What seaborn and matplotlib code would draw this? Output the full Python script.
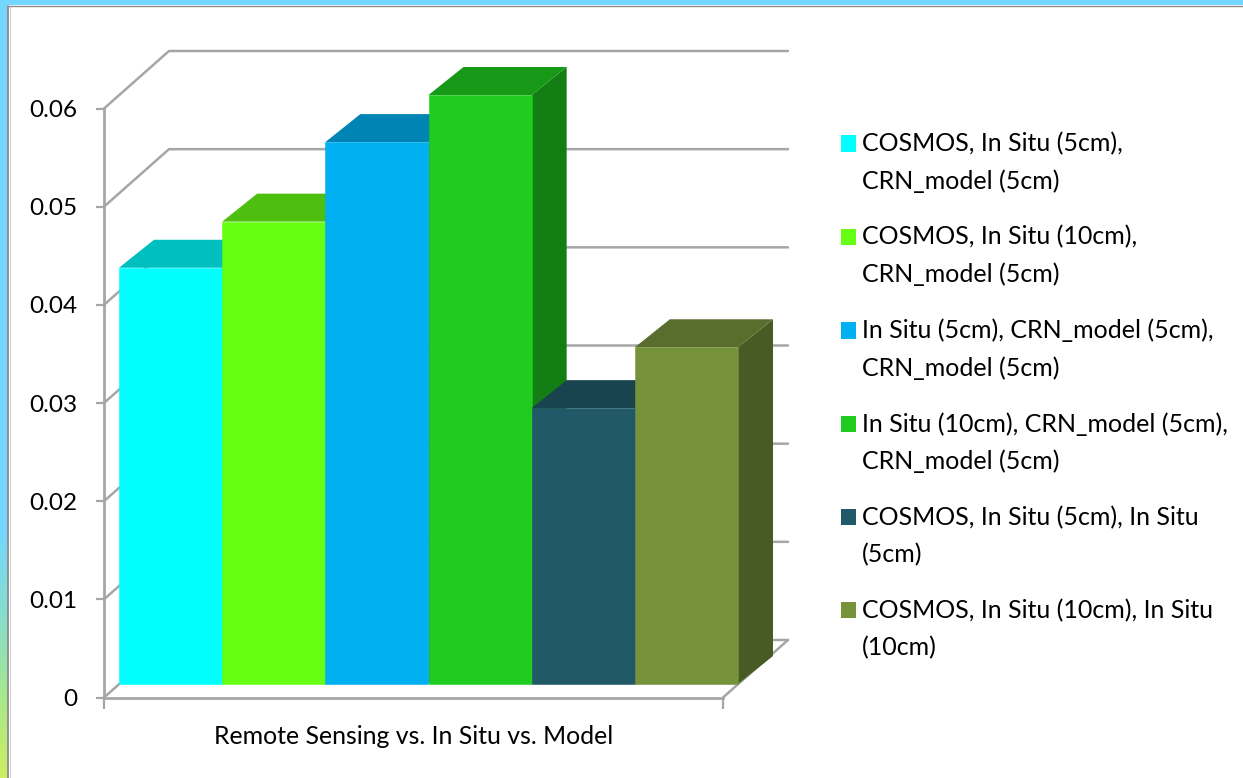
import numpy as np
import pandas as pd
import matplotlib
matplotlib.use("Agg")
import matplotlib.pyplot as plt
from matplotlib.colors import LinearSegmentedColormap, to_rgb
from matplotlib.patches import Polygon
import seaborn as sns

# Chart content
group = "Remote Sensing vs. In Situ vs. Model"
series = [
    "COSMOS, In Situ (5cm),\nCRN_model (5cm)",
    "COSMOS, In Situ (10cm),\nCRN_model (5cm)",
    "In Situ (5cm), CRN_model (5cm),\nCRN_model (5cm)",
    "In Situ (10cm), CRN_model (5cm),\nCRN_model (5cm)",
    "COSMOS, In Situ (5cm), In Situ\n(5cm)",
    "COSMOS, In Situ (10cm), In Situ\n(10cm)",
]
values = [0.0424, 0.0471, 0.0552, 0.0600, 0.0281, 0.0343]
colors = ["#00FFFF", "#66FF13", "#00B0F0", "#1FCC1F", "#215968", "#76933C"]
y_ticks = [0, 0.01, 0.02, 0.03, 0.04, 0.05, 0.06]
y_tick_labels = ["0", "0.01", "0.02", "0.03", "0.04", "0.05", "0.06"]

W, H = 1243, 778
GREY = "#A6A6A6"
FONT = "Lato"

sns.set_theme(style="white")
plt.rcParams["font.family"] = [FONT, "DejaVu Sans"]
plt.rcParams["text.color"] = "black"


def px_box(left, top, right, bottom):
    """Figure-fraction rectangle from pixel edges measured from the top-left."""
    return [left / W, 1 - bottom / H, (right - left) / W, (bottom - top) / H]


fig = plt.figure(figsize=(W / 100, H / 100), dpi=100, facecolor="white")

# Slide frame: gradient strip on the left, flat band along the top
strip = fig.add_axes(px_box(0, 0, 7.5, H))
strip_cmap = LinearSegmentedColormap.from_list(
    "strip",
    [(0, "#74D7FF"), (0.68, "#74D7FF"), (0.8, "#88DEC8"), (0.9, "#A8E88C"), (1, "#CDEE60")],
)
strip.imshow(np.linspace(0, 1, 256)[:, None], aspect="auto", cmap=strip_cmap)
strip.axis("off")
band = fig.add_axes(px_box(0, 0, W, 5))
band.set_facecolor("#74D7FF")
band.set_xticks([])
band.set_yticks([])
for spine in band.spines.values():
    spine.set_visible(False)
fig.add_artist(plt.Line2D([8.3 / W, 8.3 / W], [0, 1 - 5.5 / H], color="#8C8C8C", lw=1.3))
fig.add_artist(plt.Line2D([9.5 / W, 9.5 / W], [0, 1 - 6 / H], color="#D0D0D0", lw=0.8))
fig.add_artist(plt.Line2D([7.6 / W, 1], [1 - 5.6 / H] * 2, color="#8C8C8C", lw=1.0))

# Front plane of the box: carries the ticks and the category title
ax = fig.add_axes(px_box(104, 108.5, 723, 697.5))
ax.set_xlim(-0.5, 0.5)
ax.set_ylim(0, 0.06)
ax.set_yticks(y_ticks, y_tick_labels)
ax.set_xticks([-0.5, 0.5], ["", ""])
ax.set_xlabel(group, fontsize=17.9, labelpad=8.5, color="black")
ax.tick_params(axis="y", length=6, width=1.6, color=GREY, pad=13, labelsize=17.5, labelcolor="black", left=True)
ax.tick_params(axis="x", length=8, width=1.6, color=GREY, bottom=True)
ax.patch.set_alpha(0)
for name, spine in ax.spines.items():
    spine.set_visible(name in ("left", "bottom"))
    spine.set_color(GREY)
    spine.set_linewidth(2)

# Offset of the back wall, in data units of the front plane
px_x = 1 / 619
px_y = 0.06 / 589
wall_dx, wall_dy = 65 * px_x, 57.5 * px_y
x0, x1 = ax.get_xlim()
for y in y_ticks:
    ax.plot(
        [x0, x0 + wall_dx, x1 + wall_dx],
        [y, y + wall_dy, y + wall_dy],
        color=GREY, lw=1.8, clip_on=False, zorder=1, solid_joinstyle="miter",
    )
ax.plot([x1, x1 + wall_dx], [0, wall_dy], color=GREY, lw=1.8, clip_on=False, zorder=1)

# Bars sit on a plane set back from the front of the box
bars = fig.add_axes(px_box(119, 95, 738, 684))
bars.patch.set_alpha(0)
df = pd.DataFrame({"group": [group] * len(series), "series": series, "value": values})
sns.barplot(
    data=df, x="group", y="value", hue="series", hue_order=series,
    palette=colors, saturation=1, width=1, dodge=True, ax=bars, legend=True,
)
bars.set_xlim(-0.5, 0.5)
bars.set_ylim(0, 0.06)
bars.axis("off")

depth_dx, depth_dy = 35 * px_x, 28 * px_y


def shade(color, k):
    return tuple(c * k for c in to_rgb(color))


for i, (container, color) in enumerate(zip(bars.containers, colors)):
    for rect in container:
        left = rect.get_x()
        right = left + rect.get_width()
        top = rect.get_height()
        rect.set_zorder(3 + i + 0.5)
        rect.set_clip_on(False)
        rect.set_edgecolor(color)
        rect.set_linewidth(0.4)
        side = Polygon(
            [(right, 0), (right, top), (right + depth_dx, top + depth_dy), (right + depth_dx, depth_dy)],
            facecolor=shade(color, 0.62), edgecolor="none", zorder=3 + i, clip_on=False,
        )
        roof = Polygon(
            [(left, top), (right, top), (right + depth_dx, top + depth_dy), (left + depth_dx, top + depth_dy)],
            facecolor=shade(color, 0.75), edgecolor="none", zorder=3 + i, clip_on=False,
        )
        bars.add_patch(side)
        bars.add_patch(roof)

# Legend on the right, with each swatch aligned to the first line of its entry
handles, labels = bars.get_legend_handles_labels()
bars.get_legend().remove()
legend = fig.legend(
    handles, labels, loc="upper left", bbox_to_anchor=(841 / W, 1 - 132 / H),
    frameon=False, fontsize=18, borderpad=0, borderaxespad=0,
    handlelength=0.6, handleheight=0.64, handletextpad=0.24, labelspacing=1.3,
)
for text in legend.get_texts():
    text.set_linespacing(1.71)
    text.set_color("black")
for patch in legend.get_patches():
    patch.set_y(patch.get_y() + 14)
    patch.set_edgecolor("none")

fig.savefig("out.png", dpi=100, facecolor="white")
